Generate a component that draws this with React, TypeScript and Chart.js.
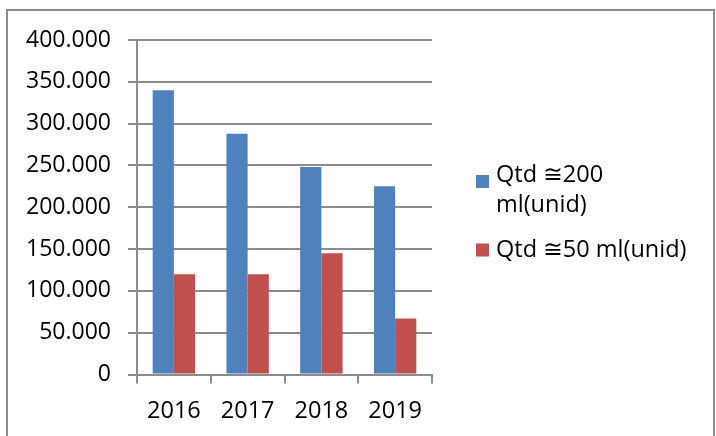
import React, { useEffect, useRef } from 'react';
import { Chart, registerables } from 'chart.js';

Chart.register(...registerables);

const categories = ['2016', '2017', '2018', '2019'];
const seriesLabels = ['Qtd ≅200 ml(unid)', 'Qtd ≅50 ml(unid)'];
const legendLines = [['Qtd ≅200', 'ml(unid)'], ['Qtd ≅50 ml(unid)']];
const series200 = [340000, 288000, 248000, 225000];
const series50 = [120000, 120000, 145000, 67000];
const yTickLabels = ['0', '50.000', '100.000', '150.000', '200.000', '250.000', '300.000', '350.000', '400.000'];

const FONT = '"Open Sans", "DejaVu Sans", sans-serif';
const GRID = '#8c8c8c';

const sideLegend = {
  id: 'sideLegend',
  afterDraw(chart: any) {
    const { ctx, chartArea } = chart;
    const x0 = chartArea.right + 44;
    const layout = [
      { boxTop: 175, baselines: [182, 212] },
      { boxTop: 243.5, baselines: [257] },
    ];
    ctx.save();
    ctx.font = `23.5px ${FONT}`;
    ctx.textBaseline = 'alphabetic';
    ctx.textAlign = 'left';
    chart.data.datasets.forEach((ds: any, i: number) => {
      const l = layout[i];
      ctx.fillStyle = ds.backgroundColor;
      ctx.fillRect(x0, l.boxTop, 13, 13);
      ctx.fillStyle = '#000';
      legendLines[i].forEach((line, j) => {
        ctx.fillText(line, x0 + 20, l.baselines[j]);
      });
    });
    ctx.restore();
  },
};

export default function App() {
  const ref = useRef<HTMLCanvasElement>(null);
  useEffect(() => {
    document.body.style.margin = '0';
    const chart = new Chart(ref.current!, {
      type: 'bar',
      data: {
        labels: categories,
        datasets: [
          { label: seriesLabels[0], data: series200, backgroundColor: '#4F81BD' },
          { label: seriesLabels[1], data: series50, backgroundColor: '#C0504D' },
        ],
      },
      options: {
        animation: false,
        responsive: false,
        maintainAspectRatio: false,
        layout: { padding: { left: 0, right: 284, top: 40, bottom: 0 } },
        plugins: {
          legend: { display: false },
          tooltip: { enabled: false },
        },
        datasets: { bar: { categoryPercentage: 0.575, barPercentage: 1.0 } },
        scales: {
          x: {
            grid: { display: true, drawOnChartArea: false, drawTicks: true, tickLength: 9, color: GRID, lineWidth: 2, offset: true },
            border: { display: true, color: GRID, width: 2 },
            ticks: { color: '#000', font: { family: FONT, size: 23.5 }, padding: 14 },
            afterFit: (s: any) => { s.height = 61.5; },
          },
          y: {
            min: 0,
            max: 400000,
            grid: { color: GRID, lineWidth: 2, tickLength: 9, drawTicks: true },
            border: { display: true, color: GRID, width: 2 },
            ticks: {
              stepSize: 50000,
              color: '#000',
              font: { family: FONT, size: 23 },
              padding: 17,
              callback: (_v: any, i: number) => yTickLabels[i],
            },
            afterFit: (s: any) => { s.width = 137; },
          },
        },
      },
      plugins: [sideLegend],
    });
    return () => chart.destroy();
  }, []);
  return (
    <div style={{ position: 'fixed', left: 0, top: 0, width: 716, height: 436, background: '#fff' }}>
      <canvas ref={ref} width={716} height={436} style={{ position: 'absolute', left: 0, top: 0 }} />
      <div
        style={{
          position: 'absolute', left: 6, top: 9, width: 709, height: 500,
          border: '2px solid #8c8c8c', boxSizing: 'border-box', pointerEvents: 'none',
        }}
      />
    </div>
  );
}
